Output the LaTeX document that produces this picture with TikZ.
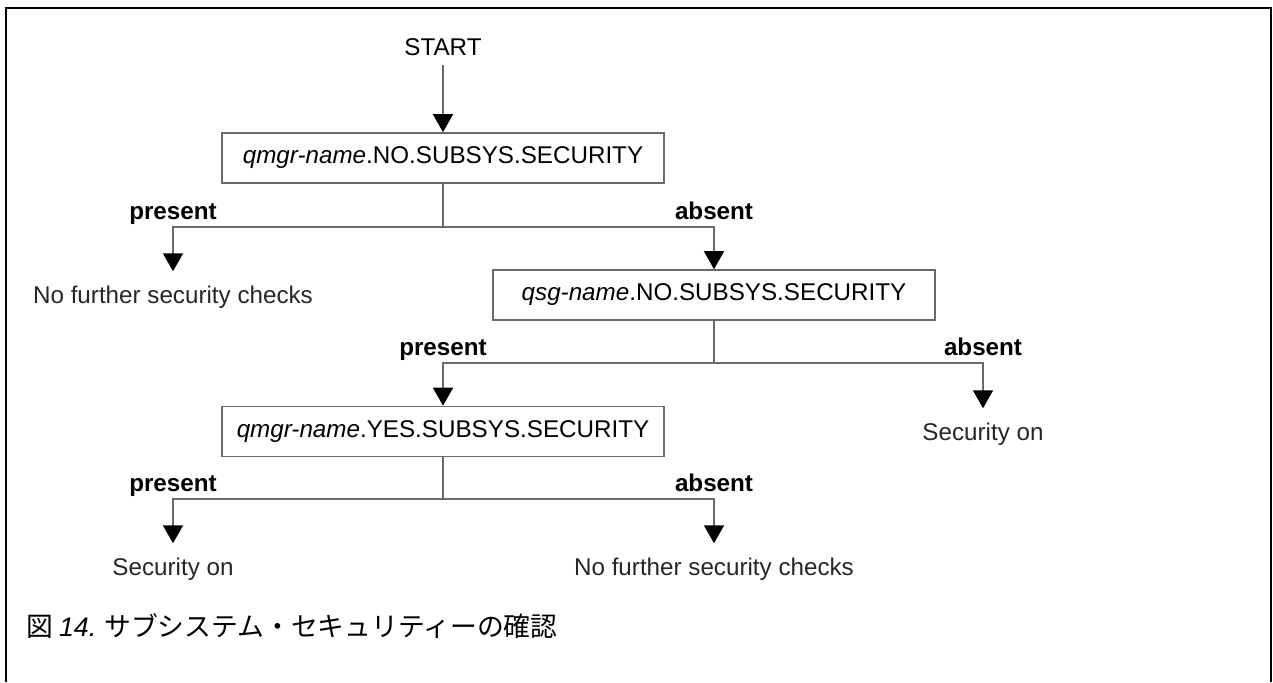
\documentclass[tikz,border=0pt]{standalone}
\usepackage{fontspec}
\setmainfont{Liberation Sans}
\newfontfamily\jpfont{Noto Sans CJK JP}
\usetikzlibrary{arrows.meta}
\definecolor{linegray}{RGB}{105,105,105}

\begin{document}
\begin{tikzpicture}[x=1pt,y=-1pt,
                    font=\fontsize{24.2}{28}\selectfont,
                    box/.style={draw=linegray, line width=1.6pt, minimum width=442pt,
                                minimum height=50pt, inner sep=0pt},
                    outcome/.style={anchor=base, inner xsep=0pt, inner ysep=14pt, text=black!85},
                    branch/.style={anchor=base, inner sep=0pt,
                                   font=\fontsize{24.2}{28}\selectfont\bfseries},
                    conn/.style={draw=linegray, line width=1.6pt},
                    arr/.style={conn, -{Triangle[length=18pt,width=20pt,color=black]}}]
  \useasboundingbox (0,0) rectangle (1273,682);
  \draw[line width=2pt] (6,682) -- (6,8) -- (1271,8) -- (1271,682);

  \node[anchor=base, inner sep=9pt] (start) at (443,56) {START};
  \node[box] (subsys) at (443,158) {\textit{qmgr-name}.NO.SUBSYS.SECURITY};
  \coordinate (split1) at (443,227);
  \node[branch] (pres1) at (173,219) {present};
  \node[branch] (abs1) at (714,219) {absent};
  \node[outcome] (nocheck1) at (173,303) {No further security checks};

  \node[box] (qsg) at (714,295) {\textit{qsg-name}.NO.SUBSYS.SECURITY};
  \coordinate (split2) at (714,363);
  \node[branch] (pres2) at (443,355) {present};
  \node[branch] (abs2) at (983,355) {absent};
  \node[outcome] (secon1) at (983,440) {Security on};

  \node[box] (yes) at (443,431.5) {\textit{qmgr-name}.YES.SUBSYS.SECURITY};
  \coordinate (split3) at (443,499);
  \node[branch] (pres3) at (173,491) {present};
  \node[branch] (abs3) at (714,491) {absent};
  \node[outcome] (secon2) at (173,575) {Security on};
  \node[outcome] (nocheck2) at (714,575) {No further security checks};

  \draw[arr] (start.south) -- (subsys.north);
  \draw[conn] (subsys.south) -- (split1);
  \draw[arr] (split1) -| (nocheck1.north);
  \draw[arr] (split1) -| (qsg.north);
  \draw[conn] (qsg.south) -- (split2);
  \draw[arr] (split2) -| (yes.north);
  \draw[arr] (split2) -| (secon1.north);
  \draw[conn] (yes.south) -- (split3);
  \draw[arr] (split3) -| (secon2.north);
  \draw[arr] (split3) -| (nocheck2.north);

  \node[anchor=base west, inner sep=0pt, font=\jpfont\fontsize{26.8}{30}\selectfont] (caption)
    at (26,636) {図 {\rmfamily\itshape 14.} サブシステム・セキュリティーの確認};
\end{tikzpicture}
\end{document}
